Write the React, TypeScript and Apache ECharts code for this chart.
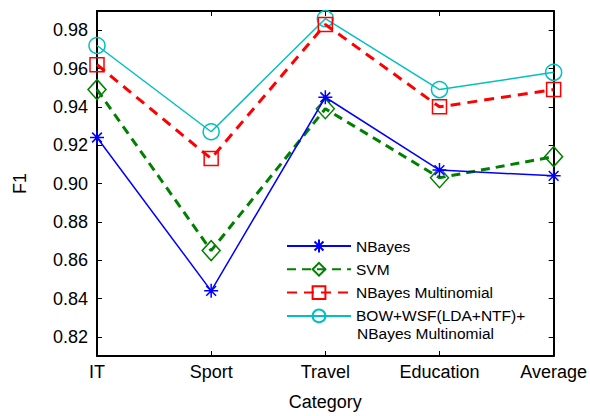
import React, { useEffect, useRef } from "react";
import * as echarts from "echarts";

const categories = ["IT", "Sport", "Travel", "Education", "Average"];
const nbayes = [0.924, 0.844, 0.945, 0.907, 0.904];
const svm = [0.949, 0.865, 0.939, 0.903, 0.914];
const nbayesMulti = [0.962, 0.913, 0.983, 0.94, 0.949];
const bowMulti = [0.972, 0.927, 0.986, 0.949, 0.958];
const yTicks = [0.82, 0.84, 0.86, 0.88, 0.9, 0.92, 0.94, 0.96, 0.98];

const NAME_NB = "NBayes";
const NAME_SVM = "SVM";
const NAME_NBM = "NBayes Multinomial";
const NAME_BOW = "BOW+WSF(LDA+NTF)+ NBayes Multinomial";

const FONT = "Liberation Sans, Arial, Helvetica, sans-serif";
const STAR = "path://M10,0L10,20M0,10L20,10M3,3L17,17M3,17L17,3";

export default function App() {
  const ref = useRef<HTMLDivElement>(null);
  useEffect(() => {
    if (!ref.current) return;
    const chart = echarts.init(ref.current, undefined, { renderer: "svg" });
    const axisLine = { show: true, lineStyle: { color: "#000", width: 2 } };
    const tickStyle = { color: "#000", width: 1 };
    chart.setOption({
      animation: false,
      backgroundColor: "#fff",
      textStyle: { fontFamily: FONT },
      grid: { left: 97, right: 32, top: 11, bottom: 57, containLabel: false },
      legend: {
        orient: "vertical",
        left: 281,
        top: 233,
        itemWidth: 64,
        itemHeight: 16,
        itemGap: 7.3,
        selectedMode: false,
        data: [NAME_NB, NAME_SVM, NAME_NBM, NAME_BOW],
        formatter: (n: string) => (n === NAME_BOW ? "BOW+WSF(LDA+NTF)+" : n),
        textStyle: { fontFamily: FONT, fontSize: 15.5, color: "#000", lineHeight: 16 },
      },
      graphic: [
        {
          type: "text",
          left: 357,
          top: 325,
          style: { text: "NBayes Multinomial", font: `15.5px ${FONT}`, fill: "#000" },
        },
      ],
      xAxis: [
        {
          type: "category",
          data: categories,
          boundaryGap: false,
          position: "bottom",
          axisLine,
          axisTick: { show: true, inside: true, length: 5, lineStyle: tickStyle },
          axisLabel: { fontFamily: FONT, fontSize: 18, color: "#000", margin: 7 },
          name: "Category",
          nameLocation: "middle",
          nameGap: 37,
          nameTextStyle: { fontFamily: FONT, fontSize: 18, color: "#000" },
          splitLine: { show: false },
        },
        {
          type: "category",
          data: categories,
          boundaryGap: false,
          position: "top",
          axisLine,
          axisTick: { show: true, inside: true, length: 5, lineStyle: tickStyle },
          axisLabel: { show: false },
          splitLine: { show: false },
        },
      ],
      yAxis: [
        {
          type: "value",
          min: 0.81,
          max: 0.99,
          position: "left",
          axisLine,
          axisTick: { show: true, inside: true, length: 5, lineStyle: tickStyle, customValues: yTicks },
          axisLabel: {
            fontFamily: FONT,
            fontSize: 18,
            color: "#000",
            margin: 9,
            customValues: yTicks,
            formatter: (v: number) => v.toFixed(2),
          },
          splitLine: { show: false },
          name: "F1",
          nameLocation: "middle",
          nameRotate: 90,
          nameGap: 68,
          nameTextStyle: { fontFamily: FONT, fontSize: 18, color: "#000" },
        },
        {
          type: "value",
          min: 0.81,
          max: 0.99,
          position: "right",
          axisLine,
          axisTick: { show: true, inside: true, length: 5, lineStyle: tickStyle, customValues: yTicks },
          axisLabel: { show: false },
          splitLine: { show: false },
        },
      ],
      series: [
        {
          name: NAME_NB,
          type: "line",
          data: nbayes,
          symbol: STAR,
          symbolSize: 14,
          lineStyle: { color: "#0000ff", width: 1.5, type: "solid" },
          itemStyle: { color: "rgba(0,0,0,0)", borderColor: "#0000ff", borderWidth: 1.5 },
          z: 5,
        },
        {
          name: NAME_SVM,
          type: "line",
          data: svm,
          symbol: "diamond",
          symbolSize: [18, 20],
          lineStyle: { color: "#008000", width: 3, type: [9, 6] },
          itemStyle: { color: "rgba(0,0,0,0)", borderColor: "#008000", borderWidth: 1.5 },
          z: 4,
        },
        {
          name: NAME_NBM,
          type: "line",
          data: nbayesMulti,
          symbol: "rect",
          symbolSize: 14,
          lineStyle: { color: "#ff0000", width: 3, type: [10, 7] },
          itemStyle: { color: "rgba(0,0,0,0)", borderColor: "#ff0000", borderWidth: 1.5 },
          z: 3,
        },
        {
          name: NAME_BOW,
          type: "line",
          data: bowMulti,
          symbol: "circle",
          symbolSize: 16,
          lineStyle: { color: "#00c0c0", width: 1.5, type: "solid" },
          itemStyle: { color: "rgba(0,0,0,0)", borderColor: "#00c0c0", borderWidth: 1.5 },
          z: 2,
        },
      ],
    });
    return () => chart.dispose();
  }, []);
  return (
    <div
      ref={ref}
      style={{ position: "absolute", left: 0, top: 0, width: 590, height: 416 }}
    />
  );
}
